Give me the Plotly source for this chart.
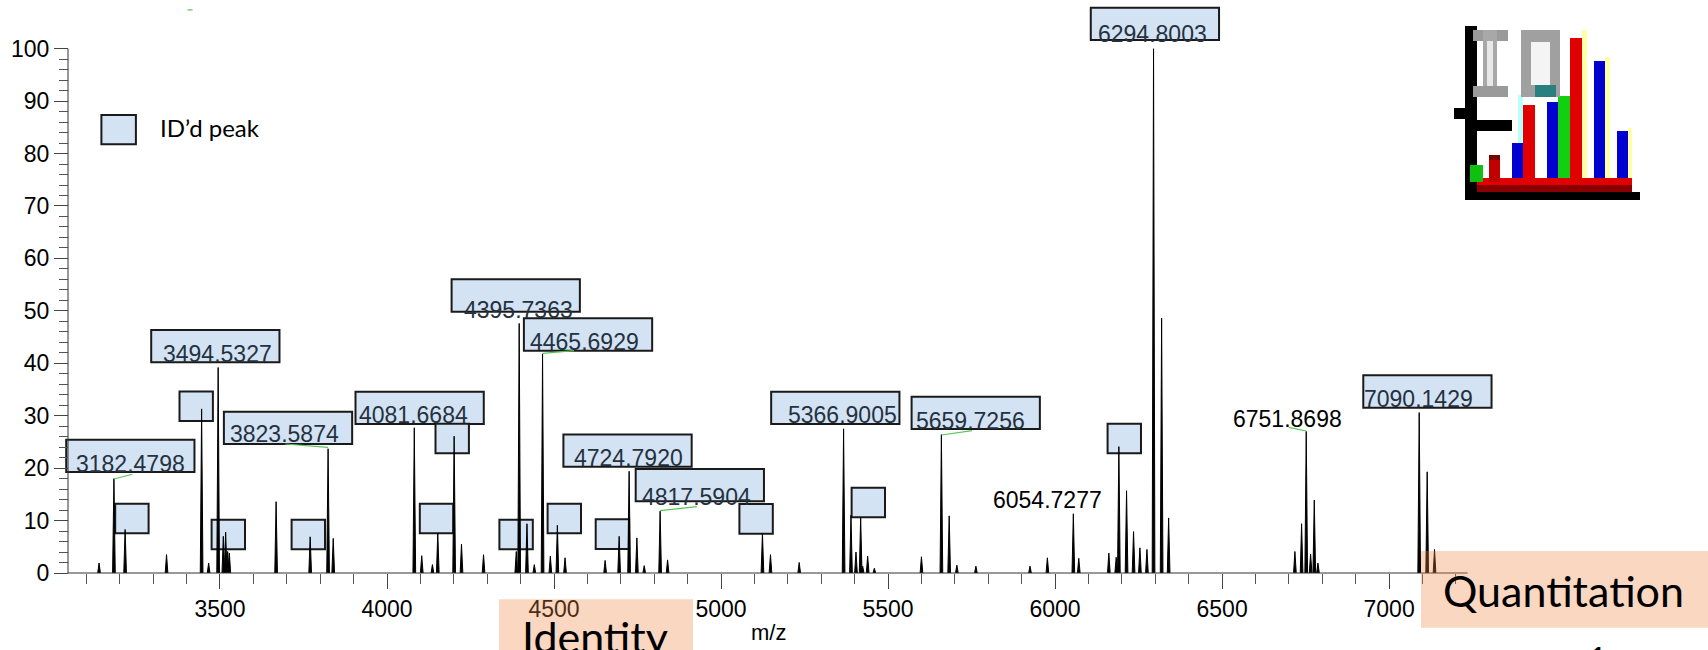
import plotly.graph_objects as go

# ---------------- data ----------------
peak_mz = [3138, 3182.5, 3216, 3340, 3445, 3466, 3494.5, 3510, 3517, 3523, 3528,
           3668, 3770, 3823.6, 3839, 4081.7, 4104, 4136, 4152, 4201, 4223, 4289,
           4387, 4395.7, 4419, 4441, 4465.7, 4489, 4510, 4533, 4653, 4695, 4724.8,
           4748, 4770, 4817.6, 4840, 5124, 5148, 5234, 5366.9, 5389, 5404, 5418,
           5424, 5439, 5459, 5600, 5659.7, 5683, 5706, 5763, 5925, 5977, 6054.7,
           6071, 6161, 6183, 6191, 6214, 6235, 6254, 6275, 6294.8, 6319, 6340,
           6718, 6738, 6751.9, 6765, 6776, 6787, 7090.1, 7114, 7136]
peak_int = [1.9, 18.0, 8.3, 3.5, 31.3, 1.9, 39.2, 7.0, 7.8, 4.1, 3.8,
            13.6, 6.9, 23.7, 6.6, 27.7, 3.3, 1.6, 7.6, 26.1, 5.5, 3.5,
            4.1, 47.6, 9.4, 1.6, 41.8, 3.2, 9.1, 2.9, 2.4, 7.0, 19.4,
            6.7, 1.4, 11.8, 2.5, 7.6, 3.5, 2.0, 27.5, 11.0, 4.0, 10.6,
            1.3, 3.2, 0.9, 3.1, 26.4, 10.9, 1.5, 1.3, 1.3, 2.9, 11.3,
            2.8, 3.8, 3.0, 24.1, 15.7, 7.9, 4.8, 4.5, 100.0, 48.6, 10.5,
            4.1, 9.4, 27.0, 3.6, 13.9, 1.9, 30.6, 19.3, 4.5]

id_label_text = ["3182.4798", "3494.5327", "3823.5874", "4081.6684", "4395.7363", "4465.6929",
                 "4724.7920", "4817.5904", "5366.9005", "5659.7256", "6294.8003", "7090.1429"]
id_label_box_x = [3039.6, 3294.1, 3511.7, 3905.7, 4193.4, 4409.8, 4528.1, 4744.5, 5150.1, 5570.5, 6106.9, 6922.7]
id_label_box_y = [19.26, 40.19, 24.60, 28.42, 49.84, 42.40, 20.27, 13.68, 28.42, 27.46, 101.66, 31.53]
id_label_text_x = [3070.4, 3328.2, 3528.8, 3915.0, 4231.1, 4428.1, 4558.9, 4762.8, 5200.5, 5584.3, 6128.5, 6923.9]
id_label_text_y = [19.21, 40.30, 25.04, 28.55, 48.58, 42.53, 20.41, 12.97, 28.55, 27.41, 101.34, 31.60]

plain_label_text = ["6054.7277", "6751.8698"]
plain_label_x = [5814.8, 6532.7]
plain_label_y = [12.34, 27.90]

small_box_x = [3186.3, 3474.9, 3714.4, 4098.2, 4336.5, 4480.8, 4624.8, 5055.0, 5390.9, 6157.2, 3378.8, 4145.2]
small_box_y = [7.57, 4.52, 4.52, 7.57, 4.52, 7.57, 4.58, 7.5, 10.62, 22.83, 28.99, 22.83]

leader_x0 = [3182.7, 3823.4, 4466.1, 4817.3, 5659.9, 6752.1]
leader_y0 = [17.93, 23.97, 41.90, 11.88, 26.32, 27.08]
leader_x1 = [3237.5, 3695.6, 4559.8, 4927.2, 5751.6, 6699.7]
leader_y1 = [18.83, 24.60, 42.40, 12.65, 27.14, 27.79]

x_major = [3500, 4000, 4500, 5000, 5500, 6000, 6500, 7000]
x_minor = [v for v in range(3100, 7201, 100) if v % 500]
y_major = list(range(0, 101, 10))
y_minor = [v for v in range(2, 100, 2) if v % 10]

# ---------------- style constants ----------------
W, H = 1708, 650
X_RANGE = [2841.43, 7954.7]
Y_RANGE = [0, 109.29]
AX_X0, AX_X1 = 3045, 7235
BIG_W, BIG_H = 384.0, 6.17
SMALL_W, SMALL_H = 100.0, 5.65
PEAK_HW = 4.0
BOX_FILL = "#d3e3f3"
BOX_LINE = "#1a1a1a"
LABEL_COLOR = "#25313e"
NUM_FONT = "Liberation Sans, Arial, sans-serif"
CAL_FONT = "Lato, Carlito, sans-serif"
PLOT_BOTTOM = 573.0


def px(x):
    return x / W


def py(y):
    return (PLOT_BOTTOM - y) / PLOT_BOTTOM


# ---------------- spectrum ----------------
xs, ys = [], []
for m, h in zip(peak_mz, peak_int):
    xs += [m - PEAK_HW, m, m + PEAK_HW, m - PEAK_HW, None]
    ys += [0, h, 0, 0, None]

fig = go.Figure()
fig.add_trace(go.Scatter(x=xs, y=ys, mode="lines", fill="toself", fillcolor="black",
                         line=dict(color="black", width=1), hoverinfo="skip",
                         showlegend=False))

shapes = []
annotations = []

# axis lines
shapes.append(dict(type="line", xref="x", yref="y", x0=AX_X0, x1=AX_X0, y0=0, y1=100,
                   line=dict(color="#333", width=1)))
shapes.append(dict(type="line", xref="x", yref="paper", x0=AX_X0, x1=AX_X1, y0=0, y1=0,
                   line=dict(color="#333", width=1)))

# ID'd peak boxes (big, with labels)
for bx, by in zip(id_label_box_x, id_label_box_y):
    shapes.append(dict(type="rect", xref="x", yref="y", x0=bx, x1=bx + BIG_W, y0=by, y1=by + BIG_H,
                       fillcolor=BOX_FILL, line=dict(color=BOX_LINE, width=2), layer="below"))
for t, tx, ty in zip(id_label_text, id_label_text_x, id_label_text_y):
    annotations.append(dict(x=tx, y=ty, xref="x", yref="y", text=t, showarrow=False,
                            xanchor="left", yanchor="bottom", yshift=-5, borderpad=0, borderwidth=0,
                            font=dict(family=NUM_FONT, size=23, color=LABEL_COLOR)))
for t, tx, ty in zip(plain_label_text, plain_label_x, plain_label_y):
    annotations.append(dict(x=tx, y=ty, xref="x", yref="y", text=t, showarrow=False,
                            xanchor="left", yanchor="bottom", yshift=-5, borderpad=0, borderwidth=0,
                            font=dict(family=NUM_FONT, size=23, color="black")))

# small ID boxes
for bx, by in zip(small_box_x, small_box_y):
    shapes.append(dict(type="rect", xref="x", yref="y", x0=bx, x1=bx + SMALL_W, y0=by, y1=by + SMALL_H,
                       fillcolor=BOX_FILL, line=dict(color=BOX_LINE, width=2), layer="below"))

# green leader lines
for a, b, c, d in zip(leader_x0, leader_y0, leader_x1, leader_y1):
    shapes.append(dict(type="line", xref="x", yref="y", x0=a, y0=b, x1=c, y1=d,
                       line=dict(color="#56c456", width=1.2)))
shapes.append(dict(type="line", xref="x", yref="y", x0=3403, y0=107.4, x1=3418, y1=107.4,
                   line=dict(color="#56c456", width=1.2)))

# legend
shapes.append(dict(type="rect", xref="paper", yref="paper", x0=px(101.4), x1=px(135.9),
                   y0=py(144.3), y1=py(115), fillcolor=BOX_FILL, line=dict(color=BOX_LINE, width=2)))
annotations.append(dict(x=px(160), y=py(128), xref="paper", yref="paper", text="ID’d peak",
                        showarrow=False, xanchor="left", yanchor="middle", borderpad=0, borderwidth=0,
                        font=dict(family=CAL_FONT, size=24, color="black")))

# axis title
annotations.append(dict(x=px(768), y=py(633), xref="paper", yref="paper", text="m/z",
                        showarrow=False, xanchor="center", yanchor="middle", borderpad=0, borderwidth=0,
                        font=dict(family=NUM_FONT, size=22, color="black")))

# peach callouts
PEACH = "rgba(236,130,60,0.32)"
shapes.append(dict(type="rect", xref="paper", yref="paper", x0=px(499), x1=px(693), y0=py(660), y1=py(599.3),
                   fillcolor=PEACH, line=dict(width=0), layer="above"))
shapes.append(dict(type="rect", xref="paper", yref="paper", x0=px(1421), x1=px(1710), y0=py(627.7), y1=py(551),
                   fillcolor=PEACH, line=dict(width=0), layer="above"))
annotations.append(dict(x=px(594.5), y=py(636), xref="paper", yref="paper", text="Identity",
                        showarrow=False, xanchor="center", yanchor="middle", borderpad=0, borderwidth=0,
                        font=dict(family=CAL_FONT, size=43, color="black")))
annotations.append(dict(x=px(1563.8), y=py(590), xref="paper", yref="paper", text="Quantitation",
                        showarrow=False, xanchor="center", yanchor="middle", borderpad=0, borderwidth=0,
                        font=dict(family=CAL_FONT, size=43, color="black")))
annotations.append(dict(x=px(1597.5), y=py(637), xref="paper", yref="paper", text="1",
                        showarrow=False, xanchor="center", yanchor="top", borderpad=0, borderwidth=0,
                        font=dict(family=CAL_FONT, size=36, color="black")))

# logo icon (decorative)
icon = [
    (1465, 26, 1477, 200, "black"),
    (1454, 108, 1477, 119, "black"),
    (1477, 120, 1512, 131, "black"),
    (1465, 192, 1640, 200, "black"),
    (1477, 185, 1632, 192, "#8a0000"),
    (1477, 178, 1632, 185, "#e00000"),
    (1605, 57, 1610, 178, "#ffffa8"),
    (1628, 128, 1632, 178, "#ffffa8"),
    (1518, 95, 1523, 178, "#b8ffff"),
    (1582, 30, 1587, 178, "#ffffa8"),
    (1470, 165, 1483, 182, "#10c010"),
    (1489, 155, 1500, 182, "#c00000"),
    (1489, 155, 1500, 160, "#7a0000"),
    (1512, 143, 1523, 178, "#0000d0"),
    (1523, 105, 1535, 178, "#e00000"),
    (1547, 102, 1558, 178, "#0000d0"),
    (1558, 96, 1570, 178, "#10d010"),
    (1570, 38, 1582, 178, "#e00000"),
    (1594, 61, 1605, 178, "#0000d0"),
    (1617, 131, 1628, 178, "#0000d0"),
    # letter I
    (1473, 30, 1508, 41, "#9a9a9a"),
    (1483, 30, 1497, 97, "#a8a8a8"),
    (1473, 86, 1508, 97, "#9a9a9a"),
    (1487, 41, 1493, 86, "#e8e8e8"),
    # letter Q
    (1521, 30, 1560, 97, "#a0a0a0"),
    (1531, 42, 1550, 85, "#f4f4f4"),
    (1535, 85, 1556, 97, "#2a8080"),
]
for x0, y0, x1, y1, c in icon:
    shapes.append(dict(type="rect", xref="paper", yref="paper", x0=px(x0), x1=px(x1), y0=py(y1), y1=py(y0),
                       fillcolor=c, line=dict(width=0), layer="above"))

fig.update_layout(
    width=W, height=H,
    margin=dict(l=0, r=0, t=0, b=77, pad=0),
    paper_bgcolor="white", plot_bgcolor="white",
    showlegend=False,
    shapes=shapes, annotations=annotations,
    xaxis=dict(range=X_RANGE, tickvals=x_major, ticktext=[str(v) for v in x_major],
               ticks="outside", ticklen=15, tickwidth=1, tickcolor="#444",
               showline=False, showgrid=False, zeroline=False, automargin=False,
               tickfont=dict(family=NUM_FONT, size=23, color="black"),
               minor=dict(tickvals=x_minor, ticks="outside", ticklen=10, tickwidth=1,
                          tickcolor="#555", showgrid=False)),
    yaxis=dict(range=Y_RANGE, anchor="free", position=68 / W,
               tickvals=y_major, ticktext=[str(v) for v in y_major],
               ticks="outside", ticklen=14, tickwidth=1, tickcolor="#444",
               showline=False, showgrid=False, zeroline=False, automargin=False,
               tickfont=dict(family=NUM_FONT, size=23, color="black"),
               minor=dict(tickvals=y_minor, ticks="outside", ticklen=9, tickwidth=1,
                          tickcolor="#555", showgrid=False)),
)

fig.write_html("out.html", config={"displayModeBar": False},
               post_script="document.body.style.margin='0px';document.body.style.overflow='hidden';")
